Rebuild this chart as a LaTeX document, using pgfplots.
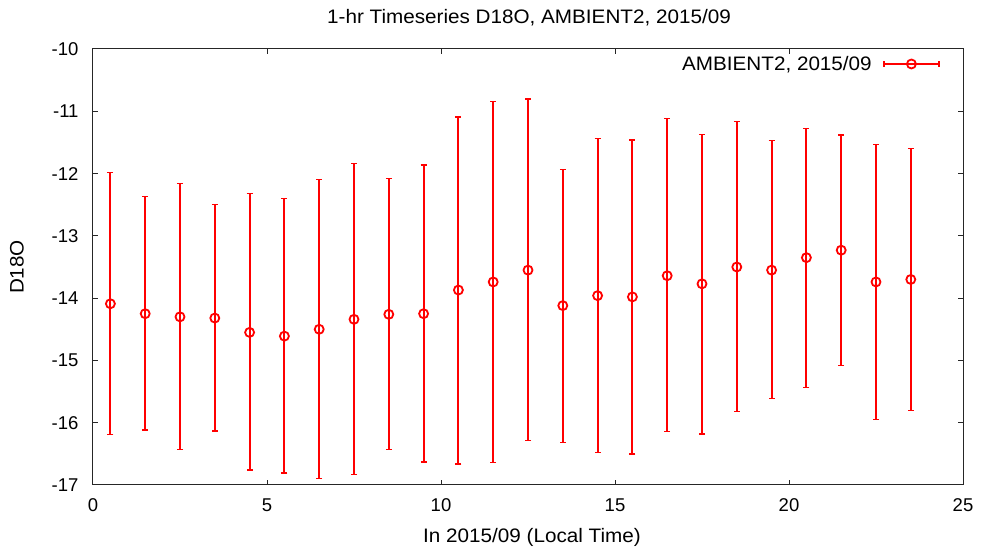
\documentclass[border=0pt]{standalone}
\usepackage{fontspec}
\setmainfont{Liberation Sans}
\newfontfamily\lblfont{Liberation Sans}[FakeStretch=1.06]
\usepackage{pgfplots}
\usepackage{pgfplotstable}
\pgfplotsset{compat=1.18}

% hour, mean, upper, lower
\pgfplotstableread{
x    y       hi      lo
0.5  -14.09  -11.98  -16.19
1.5  -14.25  -12.37  -16.12
2.5  -14.30  -12.16  -16.43
3.5  -14.32  -12.50  -16.13
4.5  -14.55  -12.32  -16.76
5.5  -14.61  -12.40  -16.81
6.5  -14.50  -12.10  -16.90
7.5  -14.34  -11.84  -16.83
8.5  -14.26  -12.08  -16.43
9.5  -14.25  -11.86  -16.63
10.5 -13.87  -11.09  -16.66
11.5 -13.74  -10.84  -16.64
12.5 -13.55  -10.80  -16.29
13.5 -14.12  -11.93  -16.32
14.5 -13.96  -11.44  -16.48
15.5 -13.98  -11.46  -16.50
16.5 -13.64  -11.12  -16.14
17.5 -13.77  -11.37  -16.18
18.5 -13.50  -11.16  -15.82
19.5 -13.55  -11.47  -15.61
20.5 -13.35  -11.28  -15.43
21.5 -13.23  -11.38  -15.08
22.5 -13.74  -11.53  -15.95
23.5 -13.70  -11.60  -15.80
}\dataA

\def\fs{\fontsize{18.5bp}{21bp}\selectfont}
\def\fl{\lblfont\fontsize{19.5bp}{22bp}\selectfont}

\begin{document}
\begin{tikzpicture}
\begin{axis}[
    scale only axis,
    width=870bp, height=436bp,
    xmin=0, xmax=25, ymin=-17, ymax=-10,
    xtick={0,5,...,25}, ytick={-17,-16,...,-10},
    tick align=inside,
    major tick length=5bp,
    axis line style={line width=1bp, black!85},
    tick style={line width=1bp, black!85},
    minor tick num=0,
    tick label style={font=\fs},
    /pgf/number format/assume math mode=true,
    x tick label style={yshift=-10bp},
    y tick label style={xshift=-11bp},
    xlabel={In 2015/09 (Local Time)},
    ylabel={D18O},
    xlabel style={font=\fl, at={(0.5,0)}, anchor=center, yshift=-52bp, xshift=4bp},
    ylabel style={font=\fl, at={(0,0.5)}, anchor=center, yshift=76bp},
    legend plot pos=right,
    legend style={draw=none, fill=none, at={(0.9736,0.9656)}, anchor=east,
        font=\fl, inner sep=0pt},
    legend cell align=right,
    clip=false,
]
\addplot[
    red, only marks, mark=o, mark size=4.5bp,
    mark options={line width=1.8bp},
    legend image code/.code={
        \path (0bp,0bp);
        \draw[red, line width=1.8bp] (10bp,0bp) -- (65bp,0bp);
        \draw[red, line width=1.4bp] (10bp,-3bp) -- (10bp,3bp) (65bp,-3bp) -- (65bp,3bp);
        \draw[red, line width=1.8bp] (37.5bp,0bp) circle (4.5bp);
    },
    error bars/.cd,
        y dir=both, y explicit,
        error bar style={red, line width=2bp},
        error mark options={red, line width=1.4bp, rotate=90, mark size=3bp},
    ]
    table[
        x=x, y=y,
        y error plus expr=\thisrow{hi}-\thisrow{y},
        y error minus expr=\thisrow{y}-\thisrow{lo},
    ] {\dataA};
\addlegendentry{AMBIENT2, 2015/09}
\end{axis}
\node[font=\fl] at ([shift={(436bp,31bp)}]current axis.north west)
    {1-hr Timeseries D18O, AMBIENT2, 2015/09};
\path ([shift={(-93bp,-74bp)}]current axis.south west) rectangle ([shift={(23bp,49bp)}]current axis.north east);
\end{tikzpicture}
\end{document}
